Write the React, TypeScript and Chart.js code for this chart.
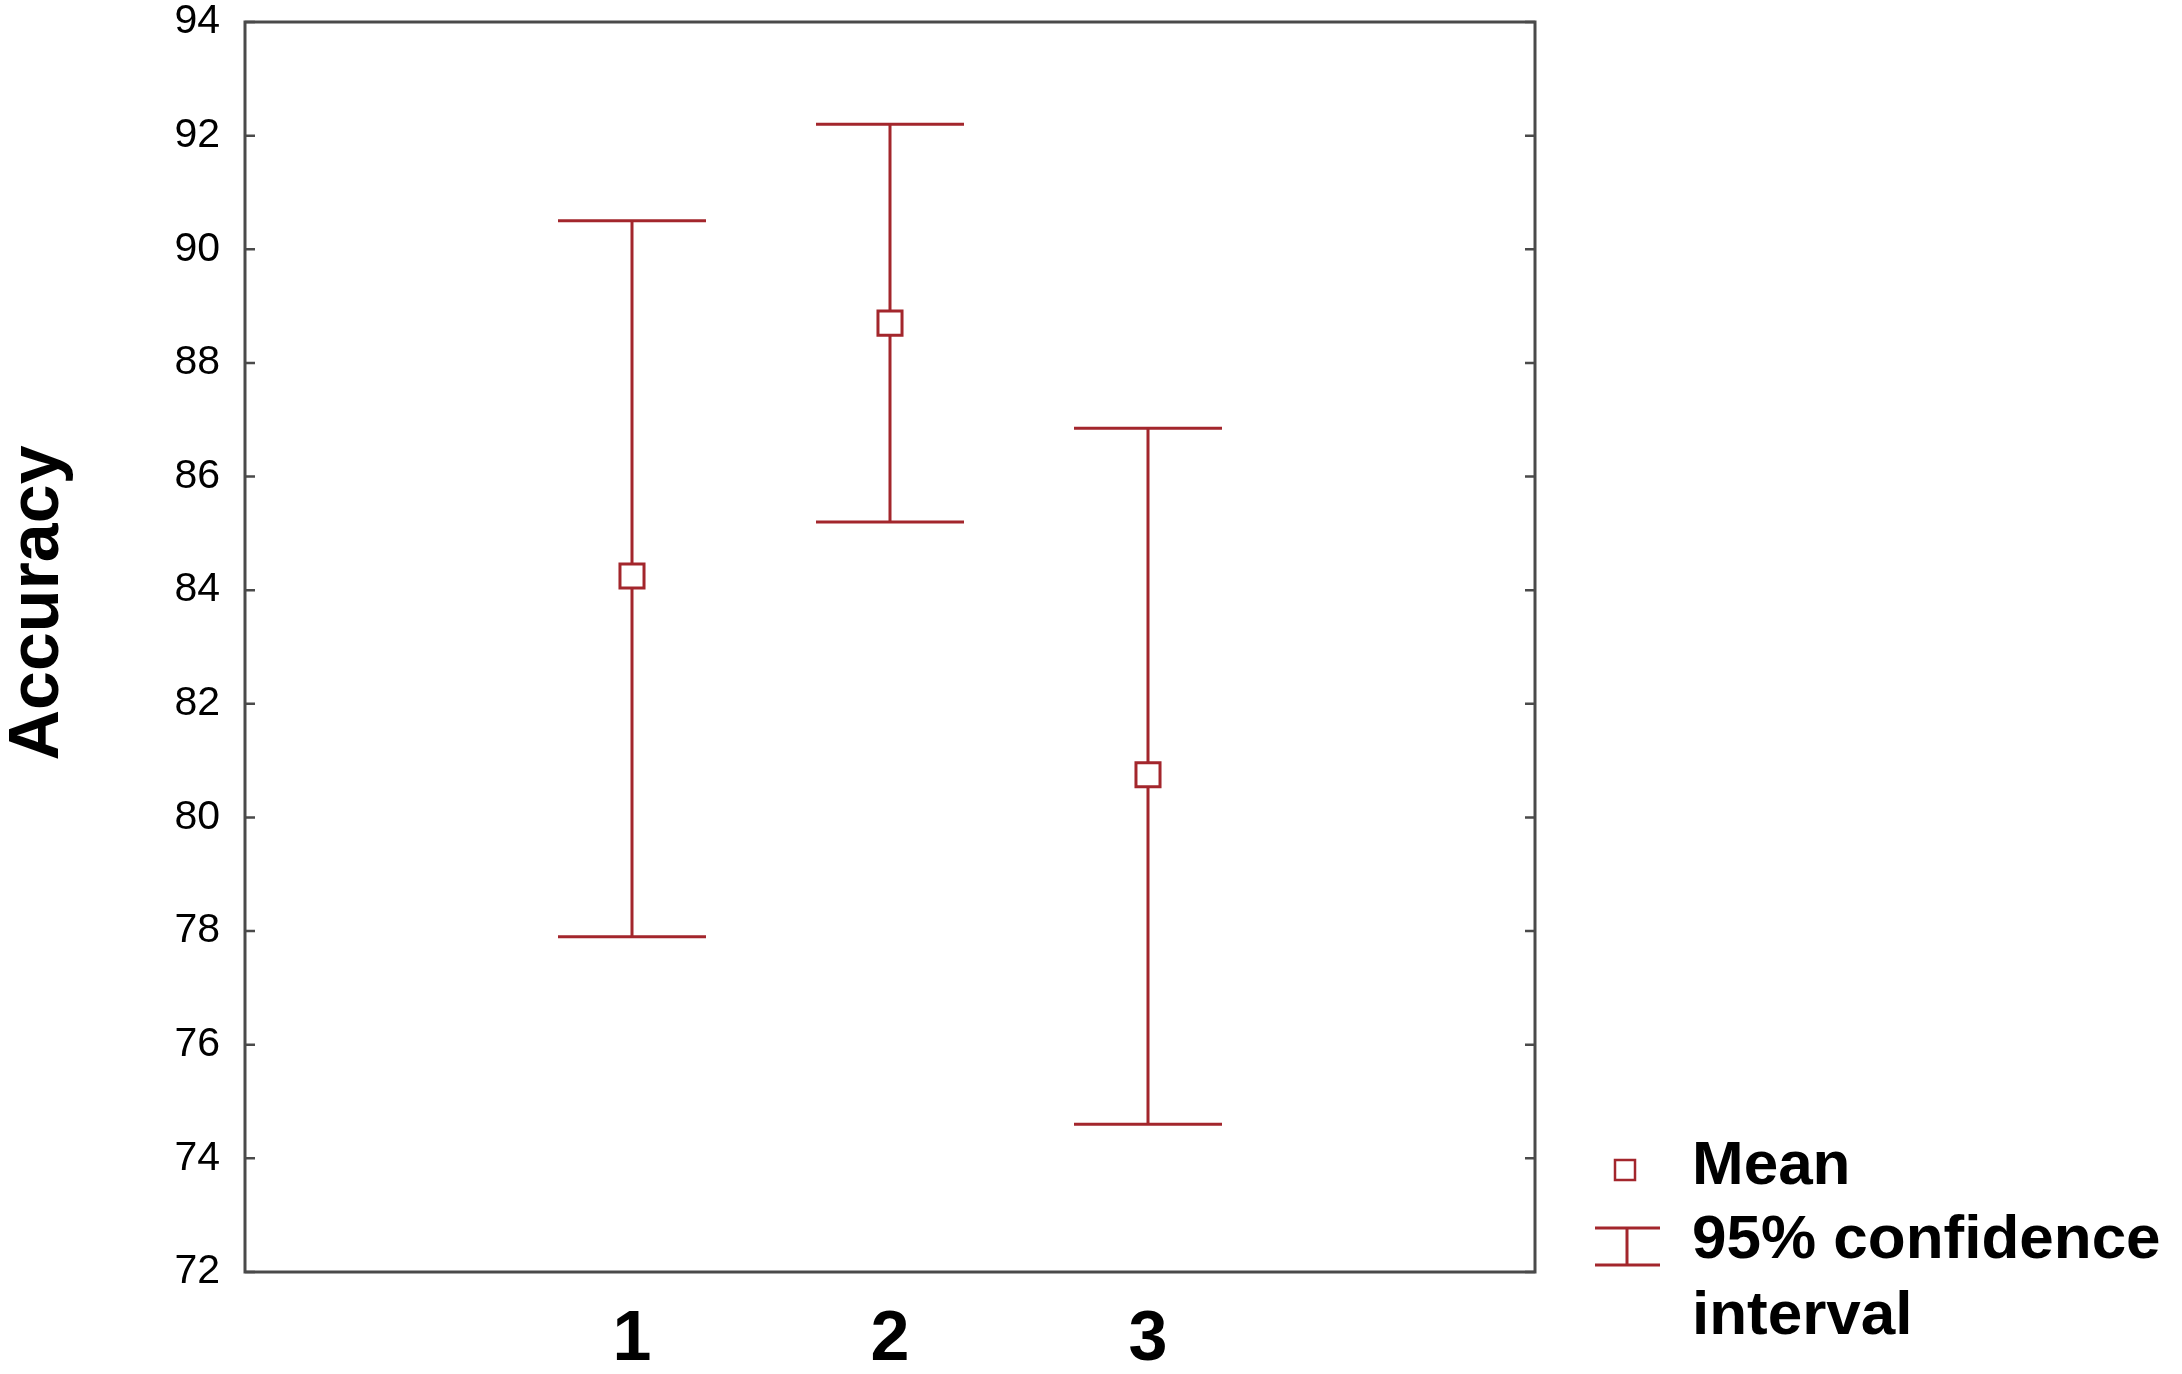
import React, { useEffect, useRef } from "react";
import { Chart, registerables } from "chart.js";

Chart.register(...registerables);

const groups = [1, 2, 3];
const groupLabels = ["1", "2", "3"];
const means = [84.25, 88.7, 80.75];
const upperCI = [90.5, 92.2, 86.85];
const lowerCI = [77.9, 85.2, 74.6];
const yTicks = [72, 74, 76, 78, 80, 82, 84, 86, 88, 90, 92, 94];
const yTitle = "Accuracy";
const legendMean = "Mean";
const legendCI = ["95% confidence", "interval"];

const RED = "#a3262c";
const FRAME = "#4a4a4a";

const errorBarPlugin = {
  id: "errorBars",
  beforeDatasetsDraw(chart: any) {
    const { ctx, scales } = chart;
    const xs = scales.x;
    const ys = scales.y;
    ctx.save();
    ctx.strokeStyle = RED;
    ctx.lineWidth = 3;
    const half = 74;
    groups.forEach((g, i) => {
      const x = xs.getPixelForValue(g);
      const yt = ys.getPixelForValue(upperCI[i]);
      const yb = ys.getPixelForValue(lowerCI[i]);
      ctx.beginPath();
      ctx.moveTo(x, yt);
      ctx.lineTo(x, yb);
      ctx.moveTo(x - half, yt);
      ctx.lineTo(x + half, yt);
      ctx.moveTo(x - half, yb);
      ctx.lineTo(x + half, yb);
      ctx.stroke();
    });
    ctx.restore();
  },
  afterDraw(chart: any) {
    const { ctx, chartArea, scales } = chart;
    const { left, right, top, bottom } = chartArea;
    ctx.save();
    ctx.strokeStyle = FRAME;
    ctx.lineWidth = 3;
    ctx.strokeRect(left, top, right - left, bottom - top);
    ctx.lineWidth = 2.5;
    yTicks.forEach((v) => {
      const y = scales.y.getPixelForValue(v);
      ctx.beginPath();
      ctx.moveTo(left, y);
      ctx.lineTo(left + 10, y);
      ctx.moveTo(right, y);
      ctx.lineTo(right - 10, y);
      ctx.stroke();
    });
    ctx.fillStyle = "#000";
    ctx.font = "bold 70px 'Liberation Sans', Arial, sans-serif";
    ctx.textAlign = "center";
    ctx.textBaseline = "middle";
    ctx.translate(39, 603);
    ctx.rotate(-Math.PI / 2);
    ctx.fillText(yTitle, 0, 0);
    ctx.restore();

    ctx.save();
    ctx.strokeStyle = RED;
    ctx.lineWidth = 2.5;
    ctx.fillStyle = "#fff";
    ctx.fillRect(1615, 1160, 20, 20);
    ctx.strokeRect(1615, 1160, 20, 20);
    ctx.lineWidth = 3;
    ctx.beginPath();
    ctx.moveTo(1595, 1228);
    ctx.lineTo(1660, 1228);
    ctx.moveTo(1627, 1228);
    ctx.lineTo(1627, 1265);
    ctx.moveTo(1595, 1265);
    ctx.lineTo(1660, 1265);
    ctx.stroke();
    ctx.fillStyle = "#000";
    ctx.font = "bold 62px 'Liberation Sans', Arial, sans-serif";
    ctx.textAlign = "left";
    ctx.textBaseline = "alphabetic";
    ctx.fillText(legendMean, 1692, 1184);
    ctx.fillText(legendCI[0], 1692, 1258);
    ctx.fillText(legendCI[1], 1692, 1334);
    ctx.restore();
  },
};

export default function App() {
  const ref = useRef<HTMLCanvasElement | null>(null);
  useEffect(() => {
    if (!ref.current) return;
    const chart = new Chart(ref.current, {
      type: "scatter",
      data: {
        datasets: [
          {
            label: legendMean,
            data: groups.map((g, i) => ({ x: g, y: means[i] })),
            pointStyle: "rect",
            pointRadius: 17,
            pointBorderWidth: 3,
            pointBackgroundColor: "#ffffff",
            pointBorderColor: RED,
            showLine: false,
          },
        ],
      },
      plugins: [errorBarPlugin],
      options: {
        animation: false,
        responsive: false,
        devicePixelRatio: 1,
        layout: { padding: { left: 0, top: 22, right: 647, bottom: 0 } },
        plugins: { legend: { display: false }, tooltip: { enabled: false } },
        scales: {
          x: {
            type: "linear",
            min: -0.5,
            max: 4.5,
            afterBuildTicks: (scale: any) => {
              scale.ticks = groups.map((g) => ({ value: g }));
            },
            afterFit: (scale: any) => {
              scale.height = 102;
              scale.paddingLeft = 0;
              scale.paddingRight = 0;
            },
            grid: { display: false, drawTicks: false },
            border: { display: false },
            ticks: {
              padding: 34,
              color: "#000",
              font: { family: "'Liberation Sans', Arial, sans-serif", size: 70, weight: "bold", lineHeight: 1 },
              callback: (v: any) => groupLabels[groups.indexOf(Number(v))] ?? "",
            },
          },
          y: {
            min: 72,
            max: 94,
            afterBuildTicks: (scale: any) => {
              scale.ticks = yTicks.map((v) => ({ value: v }));
            },
            afterFit: (scale: any) => {
              scale.width = 245;
              scale.paddingTop = 0;
              scale.paddingBottom = 0;
            },
            grid: { display: false, drawTicks: false },
            border: { display: false },
            ticks: {
              padding: 25,
              color: "#000",
              font: { family: "'Liberation Sans', Arial, sans-serif", size: 41, lineHeight: 1 },
            },
          },
        },
      },
    });
    return () => chart.destroy();
  }, []);
  return (
    <div style={{ position: "fixed", left: 0, top: 0, width: 2182, height: 1374, background: "#fff" }}>
      <canvas ref={ref} width={2182} height={1374} style={{ width: 2182, height: 1374 }} />
    </div>
  );
}
